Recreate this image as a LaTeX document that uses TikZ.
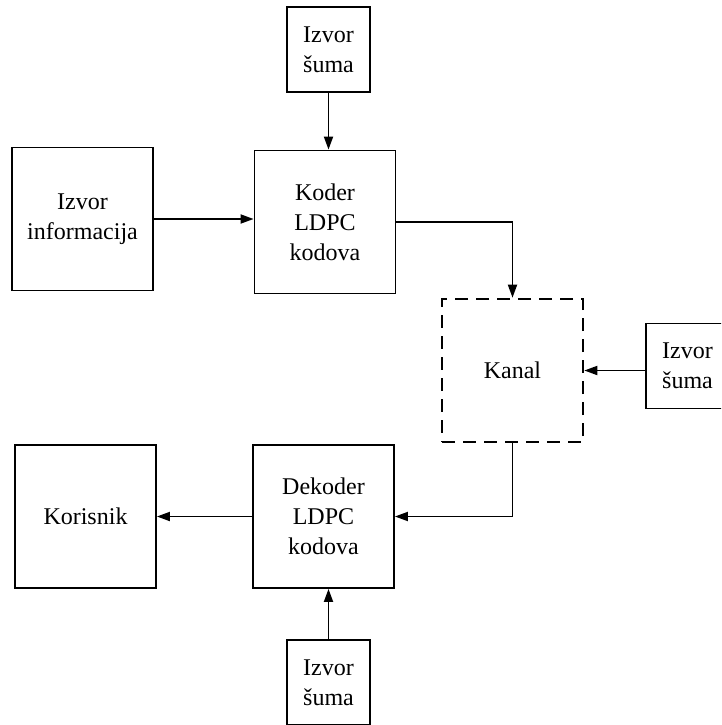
\documentclass[tikz,border=0pt]{standalone}
\usepackage{fontspec}
\setmainfont{Liberation Serif}
\usetikzlibrary{arrows.meta}
\begin{document}
\begin{tikzpicture}[x=1pt,y=-1pt,
  blk/.style={draw, line width=1.8pt, inner sep=0pt, align=center,
    font=\fontsize{24}{30}\selectfont},
  bigblk/.style={blk, minimum width=141pt, minimum height=143pt},
  noiseblk/.style={blk, minimum width=83pt, minimum height=85pt},
  chanblk/.style={bigblk, line width=2.6pt, dash pattern=on 13pt off 8pt},
  flow/.style={line width=1.8pt, -{Triangle[length=13pt,width=9pt]}}]
\useasboundingbox (0,0) rectangle (721,725);
\clip (0,0) rectangle (721,725);

% blocks
\node[noiseblk] (noise1) at (328.5,49.5) {Izvor\\šuma};
\node[bigblk]   (src)    at (82.5,219)   {Izvor\\informacija};
\node[bigblk]   (koder)  at (325,222)    {Koder\\LDPC\\kodova};
\node[chanblk]  (kanal)  at (512.5,370.5) {Kanal};
\node[noiseblk] (noise2) at (687.5,366)  {Izvor\\šuma};
\node[bigblk]   (user)   at (85.5,516.5) {Korisnik};
\node[bigblk]   (dekoder) at (323.5,516.5) {Dekoder\\LDPC\\kodova};
\node[noiseblk] (noise3) at (328.5,682.5) {Izvor\\šuma};

% connections
\draw[flow] (noise1.south) -- (noise1.south |- koder.north);
\draw[flow] (src.east) -- (src.east -| koder.west);
\draw[flow] (koder.east) -| (kanal.north);
\draw[flow] (noise2.west |- kanal.east) -- (kanal.east);
\draw[flow] (kanal.south) |- (dekoder.east);
\draw[flow] (dekoder.west) -- (user.east);
\draw[flow] (noise3.north) -- (noise3.north |- dekoder.south);
\end{tikzpicture}
\end{document}
